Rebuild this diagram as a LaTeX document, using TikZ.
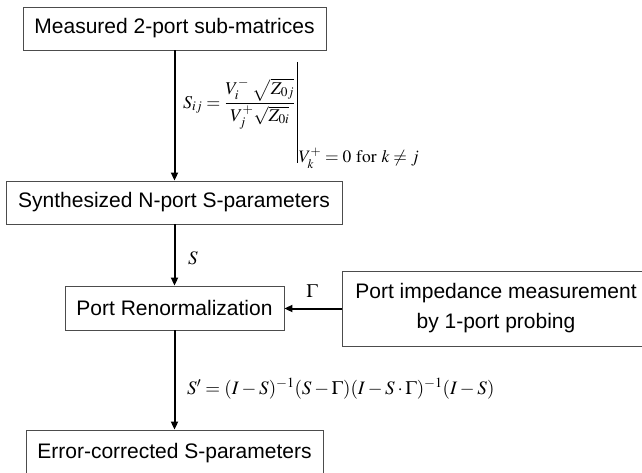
\documentclass[tikz,border=0pt]{standalone}
\usepackage{mathptmx}
\usepackage{fontspec}
\setmainfont{Liberation Sans}
\usetikzlibrary{arrows.meta}
\begin{document}
\begin{tikzpicture}[x=1pt,y=-1pt,
  box/.style={draw=black!70,line width=0.9pt,rectangle,inner sep=0pt,align=center,font=\fontsize{21}{30}\selectfont},
  flow/.style={line width=2pt,-{Triangle[length=8pt,width=7pt]}},
  lbl/.style={inner sep=0pt}]
\useasboundingbox (0,0) rectangle (642,473);
\node[box,minimum width=303,minimum height=43] (m) at (174.5,28.5) {Measured 2-port sub-matrices};
\node[box,minimum width=336,minimum height=43] (s) at (174,202.5) {Synthesized N-port S-parameters};
\node[box,minimum width=219,minimum height=44] (r) at (174.5,308) {Port Renormalization};
\node[box,minimum width=308,minimum height=75] (p) at (496,308.5) {Port impedance measurement\\by 1-port probing};
\node[box,minimum width=297,minimum height=46] (e) at (174.5,453) {Error-corrected S-parameters};
\draw[flow] (m.south) -- (m.south |- s.north);
\draw[flow] (s.south -| m.south) -- (m.south |- r.north);
\draw[flow] (r.south -| m.south) -- (m.south |- e.north);
\draw[flow] (p.west) -- (p.west -| r.east);
\node[lbl,anchor=west] (f1) at (183,104) {\fontsize{18}{21}\selectfont $\displaystyle S_{ij}=\frac{V_i^-\;\sqrt{Z_{0j}}}{V_j^+\sqrt{Z_{0i}}}$};
\coordinate (bt) at ([xshift=2pt]f1.east |- 0,62);
\coordinate (bb) at ([xshift=2pt]f1.east |- 0,163);
\draw[line width=0.8pt] (bt) -- (bb);
\node[lbl,anchor=base west] (cond) at ([xshift=1pt]bb) {\fontsize{17.5}{20}\selectfont $V_k^+ = 0\ \mathrm{for}\ k\neq j$};
\node[lbl] (ls) at (193,258) {\fontsize{19}{21}\selectfont $S$};
\node[lbl] (lg) at (312,291) {\fontsize{19}{21}\selectfont $\Gamma$};
\node[lbl,anchor=west] (f2) at (187,389) {\fontsize{19}{22}\selectfont $S' = (I-S)^{-1}(S-\Gamma)(I-S\cdot\Gamma)^{-1}(I-S)$};
\end{tikzpicture}
\end{document}
